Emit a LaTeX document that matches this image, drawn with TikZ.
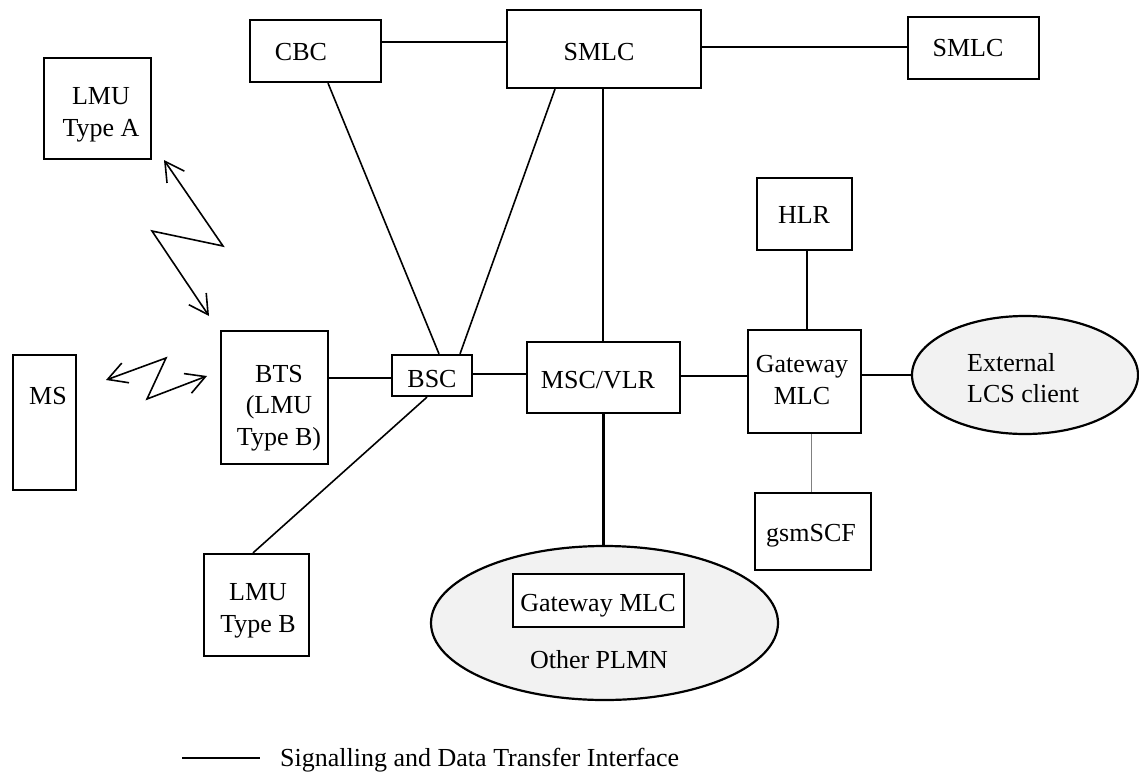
\documentclass[tikz,border=0pt]{standalone}
\usepackage{fontspec}
\setmainfont{Liberation Serif}
\usetikzlibrary{arrows.meta,shapes.geometric,calc}
\begin{document}
\begin{tikzpicture}[x=1pt,y=-1pt,
  box/.style={draw, line width=2.2pt, inner sep=0pt},
  txt/.style={font=\fontsize{26}{31.5}\selectfont, align=center, inner sep=0pt},
  conn/.style={line width=1.6pt},
  heavy/.style={line width=2.3pt},
  faint/.style={line width=1pt, draw=gray},
  cloud/.style={ellipse, draw, line width=2.2pt, fill=gray!10, inner sep=0pt},
  zig/.style={line width=1.6pt, line join=miter,
    {Straight Barb[length=19pt,width=21pt]}-{Straight Barb[length=19pt,width=21pt]}}
]
\useasboundingbox (0,0) rectangle (1139,771);

% ellipses
\node[cloud, minimum width=226pt, minimum height=118pt] (ext) at (1025,375) {};
\node[txt, align=left, anchor=west] (extt) at (967,378) {External\\LCS client};
\node[cloud, minimum width=347pt, minimum height=154pt] (plmn) at (604.5,623) {};
\node[box, fill=white, minimum width=171pt, minimum height=53pt] (gmlc2) at (598.5,600.5) {};
\node[txt] (gmlc2t) at (598,606) {Gateway MLC};
\node[txt] (plmnt) at (599,660) {Other PLMN};

% boxes
\node[box, minimum width=107pt, minimum height=101pt] (lmua) at (97.5,108.5) {};
\node[txt] (lmuat) at (101,115) {LMU\\Type A};
\node[box, minimum width=131pt, minimum height=62pt] (cbc) at (315.5,51) {};
\node[txt] (cbct) at (301,52) {CBC};
\node[box, minimum width=194pt, minimum height=78pt] (smlc) at (604,49) {};
\node[txt] (smlct) at (599,52) {SMLC};
\node[box, minimum width=131pt, minimum height=62pt] (smlcb) at (973.5,48) {};
\node[txt] (smlcbt) at (968,48) {SMLC};
\node[box, minimum width=95pt, minimum height=72pt] (hlr) at (804.5,214) {};
\node[txt] (hlrt) at (804,215) {HLR};
\node[box, minimum width=63pt, minimum height=135pt] (ms) at (44.5,422.5) {};
\node[txt] (mst) at (48,396.5) {MS};
\node[box, minimum width=107pt, minimum height=133pt] (bts) at (274.5,397.5) {};
\node[txt] (btst) at (279,408) {BTS\\(LMU\\Type B)};
\node[box, minimum width=80pt, minimum height=41pt] (bsc) at (432,375.5) {};
\node[txt] (bsct) at (432,379) {BSC};
\node[box, minimum width=153pt, minimum height=71pt] (msc) at (603.5,377.5) {};
\node[txt] (msct) at (598,380) {MSC/VLR};
\node[box, minimum width=113pt, minimum height=103pt] (gmlc) at (804.5,381.5) {};
\node[txt] (gmlct) at (802,380) {Gateway\\MLC};
\node[box, minimum width=116pt, minimum height=77pt] (gsm) at (813,531.5) {};
\node[txt] (gsmt) at (811,535.5) {gsmSCF};
\node[box, minimum width=105pt, minimum height=102pt] (lmub) at (256.5,605) {};
\node[txt] (lmubt) at (258,611) {LMU\\Type B};

% connectors
\draw[conn] ([yshift=9pt]cbc.east) -- ([yshift=9pt]cbc.east -| smlc.west);
\draw[conn] ([yshift=1pt]smlcb.west) -- ([yshift=1pt]smlcb.west -| smlc.east);
\draw[conn] ([xshift=12.5pt]cbc.south) -- ([xshift=7pt]bsc.north);
\draw[conn] ([xshift=-49pt]smlc.south) -- ([xshift=28pt]bsc.north);
\draw[heavy] ([xshift=-1pt]smlc.south) -- ([xshift=-1pt]smlc.south |- msc.north);
\draw[conn] ([yshift=19.5pt]bts.east) -- ([yshift=19.5pt]bts.east -| bsc.west);
\draw[heavy] ([yshift=1.5pt]bsc.east) -- ([yshift=1.5pt]bsc.east -| msc.west);
\draw[conn] ([yshift=1.5pt]msc.east) -- ([yshift=1.5pt]msc.east -| gmlc.west);
\draw[conn] ([xshift=2.5pt]hlr.south) -- ([xshift=2.5pt]hlr.south |- gmlc.north);
\draw[heavy] ([yshift=6.5pt]gmlc.east) -- (ext.west);
\draw[faint] ([xshift=6.5pt]gmlc.south) -- ([xshift=6.5pt]gmlc.south |- gsm.north);
\draw[heavy] (msc.south) -- (msc.south |- plmn.north);
\draw[conn] ([xshift=-5pt]bsc.south) -- ([xshift=-3.5pt]lmub.north);

% radio links
\coordinate (za1) at (164,160);
\coordinate (za2) at (223,246);
\coordinate (za3) at (152,231);
\coordinate (za4) at (209,316);
\draw[zig] (za1) -- (za2) -- (za3) -- (za4);
\coordinate (zb1) at (106,380);
\coordinate (zb2) at (166,358);
\coordinate (zb3) at (147,399);
\coordinate (zb4) at (207,376);
\draw[zig] (zb1) -- (zb2) -- (zb3) -- (zb4);

% legend
\coordinate (lg1) at (182,758);
\coordinate (lg2) at (260,758);
\draw[heavy] (lg1) -- (lg2);
\node[txt, anchor=base west] (lgt) at (280,766) {Signalling and Data Transfer Interface};
\end{tikzpicture}
\end{document}
